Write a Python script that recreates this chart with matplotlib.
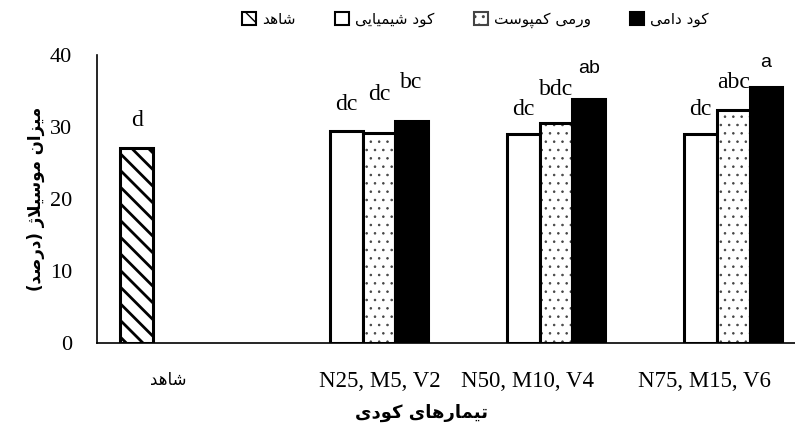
import numpy as np
import matplotlib
import matplotlib.pyplot as plt
from matplotlib.patches import Patch

plt.rcParams['font.family'] = ['Liberation Serif', 'DejaVu Sans']

# matplotlib does no Arabic-script shaping, so pick the contextual
# presentation forms by hand and lay the string out right to left.
FORMS = {
    'ا': ('\uFE8D', '\uFE8E', None, None),
    'ت': ('\uFE95', '\uFE96', '\uFE97', '\uFE98'),
    'د': ('\uFEA9', '\uFEAA', None, None),
    'ر': ('\uFEAD', '\uFEAE', None, None),
    'ز': ('\uFEAF', '\uFEB0', None, None),
    'ژ': ('\uFB8A', '\uFB8B', None, None),
    'س': ('\uFEB1', '\uFEB2', '\uFEB3', '\uFEB4'),
    'ش': ('\uFEB5', '\uFEB6', '\uFEB7', '\uFEB8'),
    'ص': ('\uFEB9', '\uFEBA', '\uFEBB', '\uFEBC'),
    'ل': ('\uFEDD', '\uFEDE', '\uFEDF', '\uFEE0'),
    'م': ('\uFEE1', '\uFEE2', '\uFEE3', '\uFEE4'),
    'ن': ('\uFEE5', '\uFEE6', '\uFEE7', '\uFEE8'),
    'ه': ('\uFEE9', '\uFEEA', '\uFEEB', '\uFEEC'),
    'و': ('\uFEED', '\uFEEE', None, None),
    'ی': ('\uFBFC', '\uFBFD', '\uFBFE', '\uFBFF'),
    'ک': ('\uFB8E', '\uFB8F', '\uFB90', '\uFB91'),
    'پ': ('\uFB56', '\uFB57', '\uFB58', '\uFB59'),
}
MIRROR = {'(': ')', ')': '('}


def fa(text):
    glyphs = []
    i = 0
    n = len(text)
    while i < n:
        c = text[i]
        prev = text[i - 1] if i > 0 else ''
        joins_prev = prev in FORMS and FORMS[prev][2] is not None
        if c == 'ل' and i + 1 < n and text[i + 1] == 'ا':
            glyphs.append('\uFEFC' if joins_prev else '\uFEFB')
            i += 2
            continue
        if c in FORMS:
            iso, fin, ini, med = FORMS[c]
            nxt = text[i + 1] if i + 1 < n else ''
            joins_next = ini is not None and nxt in FORMS
            if joins_prev and joins_next:
                g = med
            elif joins_prev:
                g = fin
            elif joins_next:
                g = ini
            else:
                g = iso
            glyphs.append(g)
        else:
            glyphs.append(MIRROR.get(c, c))
        i += 1
    return ''.join(reversed(glyphs))


categories = ['شاهد', 'N25, M5, V2', 'N50, M10, V4', 'N75, M15, V6']
series_names = ['شاهد', 'کود شیمیایی', 'ورمی کمپوست', 'کود دامی']

control = [27.1, np.nan, np.nan, np.nan]
chemical = [np.nan, 29.4, 29.0, 29.0]
vermi = [np.nan, 29.2, 30.6, 32.4]
manure = [np.nan, 30.8, 33.9, 35.5]

control_letters = ['d', '', '', '']
chemical_letters = ['', 'dc', 'dc', 'dc']
vermi_letters = ['', 'dc', 'bdc', 'abc']
manure_letters = ['', 'bc', 'ab', 'a']

fig = plt.figure(figsize=(7.95, 4.32), dpi=100)
ax = fig.add_axes([0.122, 0.206, 0.878, 0.667])

x = np.arange(len(categories))
w = 0.184

styles = [
    dict(facecolor='white', edgecolor='black', hatch='\\\\', hlw=2.0),
    dict(facecolor='white', edgecolor='black', hatch=None, hlw=1.0),
    dict(facecolor='white', edgecolor='#444444', hatch='..', hlw=0.6),
    dict(facecolor='black', edgecolor='black', hatch=None, hlw=1.0),
]
values = [control, chemical, vermi, manure]
letters = [control_letters, chemical_letters, vermi_letters, manure_letters]
# extra lift (points) for the staggered significance letters
lift = [[0, 0, 0, 0], [0, 0, -2, -2], [0, 8, 4, 0], [0, 8, 4, 0]]

handles = []
for k, (vals, st) in enumerate(zip(values, styles)):
    pos = x + (k - 1.5) * w
    with plt.rc_context({'hatch.linewidth': st['hlw']}):
        ax.bar(pos, vals, width=w, color=st['facecolor'],
               edgecolor=st['edgecolor'], hatch=st['hatch'], linewidth=0)
        # black outline on top of the (possibly grey) hatch
        ax.bar(pos, vals, width=w, fill=False, edgecolor='black', linewidth=2.2)
        handles.append(Patch(facecolor=st['facecolor'], edgecolor=st['edgecolor'],
                             hatch=st['hatch'], linewidth=1.5))
    for j, (xi, v, lab) in enumerate(zip(pos, vals, letters[k])):
        if not lab:
            continue
        sans = lab in ('ab', 'a')
        ax.annotate(lab, (xi, v), xytext=(0, 12 + lift[k][j]),
                    textcoords='offset points', ha='center', va='bottom',
                    fontsize=14 if sans else 17,
                    family='Liberation Sans' if sans else 'Liberation Serif',
                    annotation_clip=False)

ax.set_xlim(-0.5, 3.44)
ax.set_ylim(0, 40)
ax.set_yticks([0, 10, 20, 30, 40])
# category labels sit slightly off the group centres
label_shift = np.array([-0.096, 0.096, -0.068, -0.073])
ax.set_xticks(x + label_shift)
ax.set_xticklabels([fa(c) if c == 'شاهد' else c for c in categories])
for t in ax.get_xticklabels():
    if t.get_text() == fa('شاهد'):
        t.set_fontsize(12)
        t.set_family('DejaVu Sans')
    else:
        t.set_fontsize(16.5)
ax.tick_params(axis='x', length=0, pad=20)
ax.tick_params(axis='y', length=0, pad=18, labelsize=16)

for side in ('top', 'right'):
    ax.spines[side].set_visible(False)
for side in ('left', 'bottom'):
    ax.spines[side].set_linewidth(1.2)

ax.set_ylabel(fa('میزان موسیلاژ (درصد)'), family='DejaVu Sans',
              fontweight='bold', fontsize=12)
ax.yaxis.set_label_coords(-0.075, 0.5)
ax.set_xlabel(fa('تیمارهای کودی'), family='DejaVu Sans',
              fontweight='bold', fontsize=13)
ax.xaxis.set_label_coords(0.465, -0.21)

fig.legend(handles, [fa(s) for s in series_names], loc='center',
           bbox_to_anchor=(0.598, 0.954), ncol=4, frameon=False,
           prop={'family': 'DejaVu Sans', 'size': 11},
           handlelength=0.9, handleheight=0.9, handletextpad=0.4,
           columnspacing=2.6)

fig.savefig('out.png', dpi=100)
